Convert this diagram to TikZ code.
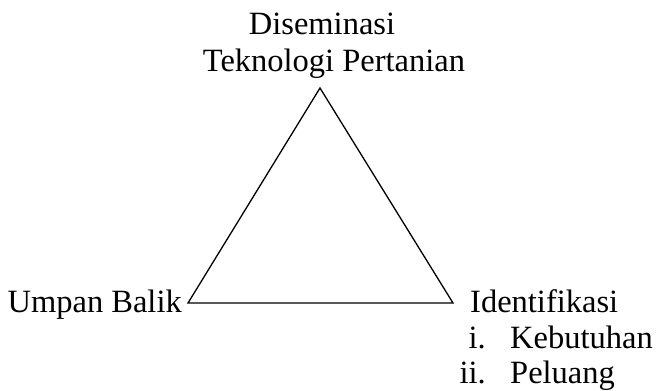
\documentclass[tikz,border=0pt]{standalone}
\usepackage{fontspec}
\setmainfont{Liberation Serif}
\begin{document}
\begin{tikzpicture}[x=1pt,y=-1pt,
  lbl/.style={inner sep=0pt,font=\fontsize{32.5}{38}\selectfont},
  edge/.style={line width=1.3pt,line join=miter}]
\useasboundingbox (0,0) rectangle (657,391);
\coordinate (top) at (320,88);
\coordinate (bl) at (188,303);
\coordinate (br) at (453,303);
\draw[edge] (top) -- (bl) -- (br) -- cycle;
\node[lbl,anchor=base] (d1) at (322,34) {Diseminasi};
\node[lbl,anchor=base] (d2) at (334,71) {Teknologi Pertanian};
\node[lbl,anchor=base east] (ub) at (182,312) {Umpan Balik};
\node[lbl,anchor=base west] (id) at (470,312) {Identifikasi};
\node[lbl,anchor=base east] (n1) at (486,348) {i.};
\node[lbl,anchor=base west] (k1) at (510,348) {Kebutuhan};
\node[lbl,anchor=base east] (n2) at (486,383) {ii.};
\node[lbl,anchor=base west] (k2) at (510,383) {Peluang};
\end{tikzpicture}
\end{document}
